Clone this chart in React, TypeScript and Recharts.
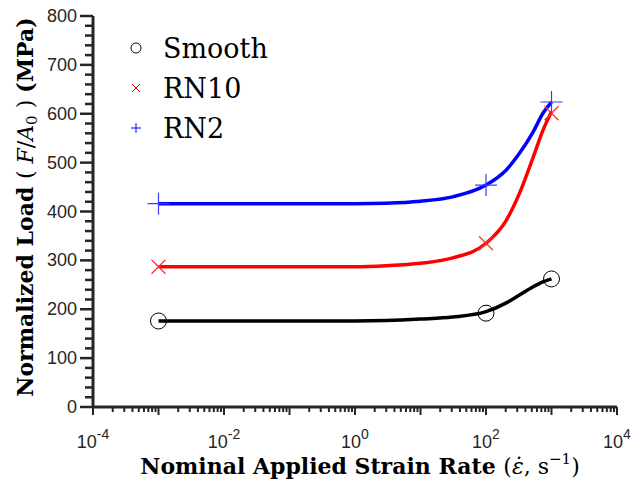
import React from 'react'
import {
  ComposedChart, Line, Scatter, XAxis, YAxis, Legend,
} from 'recharts'

// measured points (strain rate in 1/s, load in MPa)
const rates = [1e-3, 1e2, 1e3]
const smoothLoad = [176, 192, 262]
const rn10Load = [287, 335, 601]
const rn2Load = [416, 454, 624]

// fitted curves
const fitRates = [1e-3, 1e-2, 1e-1, 1, 3, 10, 31, 100, 204, 324, 525, 740, 1000]
const smoothFit = [176, 176, 176, 176, 177, 180, 184, 195, 213, 229, 246, 256, 262]
const rn10Fit = [287, 287, 287, 287, 289, 294, 305, 335, 382, 437, 511, 566, 604]
const rn2Fit = [416, 416, 416, 416, 417, 421, 430, 454, 485, 519, 563, 601, 624]

const xDecades = [-4, -3, -2, -1, 0, 1, 2, 3, 4]
const xLabelled = [-4, -2, 0, 2, 4]
const yLabels = [0, 100, 200, 300, 400, 500, 600, 700, 800]

const AXIS = '#262626'
const SERIF = '"DejaVu Serif", "Liberation Serif", serif'
const SANS = '"Liberation Sans", Arial, sans-serif'

const xTicks: number[] = []
xDecades.forEach((d) => {
  if (d === 4) { xTicks.push(1e4); return }
  for (let m = 1; m <= 9; m++) xTicks.push(m * Math.pow(10, d))
})
const yTicks: number[] = []
for (let v = 0; v <= 800; v += 20) yTicks.push(v)

const toPts = (xs: number[], ys: number[]) => xs.map((x, i) => ({ x, y: ys[i] }))

const XTick = ({ x, y, payload }: any) => {
  const v = payload.value as number
  const e = Math.round(Math.log10(v))
  const major = Math.abs(v - Math.pow(10, e)) < 1e-6 * v
  return (
    <g>
      <line x1={x} x2={x} y1={y} y2={y + (major ? 8 : 5)} stroke={AXIS} strokeWidth={2} />
      {major && xLabelled.includes(e) && (
        <text x={x} y={y + 41} textAnchor="middle" fontFamily={SANS} fontSize={18} fill={AXIS}>
          10<tspan dy={-9} fontSize={14}>{e}</tspan>
        </text>
      )}
    </g>
  )
}

const YTick = ({ x, y, payload }: any) => {
  const v = payload.value as number
  const major = yLabels.includes(v)
  return (
    <g>
      <line x1={x} x2={x - (major ? 13 : 8)} y1={y} y2={y} stroke={AXIS} strokeWidth={2.5} />
      {major && (
        <text x={x - 16} y={y + 6} textAnchor="end" fontFamily={SANS} fontSize={18} fill={AXIS}>
          {v}
        </text>
      )}
    </g>
  )
}

const CircleMark = ({ cx, cy }: any) => (
  <circle cx={cx} cy={cy} r={8} fill="none" stroke="#000" strokeWidth={1} />
)
const CrossMark = ({ cx, cy }: any) => (
  <path d={`M${cx - 7},${cy - 7}L${cx + 7},${cy + 7}M${cx - 7},${cy + 7}L${cx + 7},${cy - 7}`} stroke="#ff3030" strokeWidth={1.2} />
)
const PlusMark = ({ cx, cy }: any) => (
  <path d={`M${cx - 11},${cy}L${cx + 11},${cy}M${cx},${cy - 11}L${cx},${cy + 11}`} stroke="#3a3aff" strokeWidth={1.2} />
)

const legendItems = [
  { name: 'Smooth', mark: 'circle' },
  { name: 'RN10', mark: 'cross' },
  { name: 'RN2', mark: 'plus' },
]

const LegendBox = () => (
  <svg width={320} height={150}>
    {legendItems.map((it, i) => {
      const cy = 48 + i * 40
      return (
        <g key={it.name}>
          {it.mark === 'circle' && <circle cx={136} cy={cy} r={5} fill="none" stroke="#000" strokeWidth={1} />}
          {it.mark === 'cross' && <path d={`M${132},${cy - 4}L${140},${cy + 4}M${132},${cy + 4}L${140},${cy - 4}`} stroke="#ff0000" strokeWidth={1} />}
          {it.mark === 'plus' && <path d={`M${131},${cy}L${141},${cy}M${136},${cy - 5}L${136},${cy + 5}`} stroke="#0000ff" strokeWidth={1} />}
          <text x={163} y={cy + 10} fontFamily={SERIF} fontSize={27} fill="#000">{it.name}</text>
        </g>
      )
    })}
  </svg>
)

const YTitle = () => (
  <text x={33} y={207} transform="rotate(-90 33 207)" textAnchor="middle" fontFamily={SERIF} fontSize={22} fill="#000">
    <tspan fontWeight="bold">Normalized Load </tspan>
    <tspan>( </tspan>
    <tspan fontStyle="italic">F</tspan>
    <tspan>/</tspan>
    <tspan fontStyle="italic">A</tspan>
    <tspan fontSize={15} dy={4}>0</tspan>
    <tspan dy={-4}> ) </tspan>
    <tspan fontWeight="bold">(MPa)</tspan>
  </text>
)

const XTitle = () => (
  <text x={360} y={474} textAnchor="middle" fontFamily={SERIF} fontSize={22} fill="#000">
    <tspan fontWeight="bold">Nominal Applied Strain Rate </tspan>
    <tspan>(</tspan>
    <tspan fontStyle="italic">{'ε\u0307'}</tspan>
    <tspan>, s</tspan>
    <tspan fontSize={15} dy={-10}>−1</tspan>
    <tspan dy={10}>)</tspan>
  </text>
)

export default function App() {
  return (
    <div style={{ position: 'absolute', left: 0, top: 0, background: '#fff' }}>
      <ComposedChart width={633} height={479} margin={{ top: 16, right: 16, bottom: 0, left: 0 }}>
        <XAxis
          type="number" dataKey="x" scale="log" domain={[1e-4, 1e4]} allowDataOverflow
          ticks={xTicks} interval={0} tick={<XTick />} tickLine={false} tickSize={0} tickMargin={0}
          axisLine={{ stroke: AXIS, strokeWidth: 3 }} height={72}
          label={<XTitle />}
        />
        <YAxis
          type="number" dataKey="y" domain={[0, 800]} allowDataOverflow
          ticks={yTicks} interval={0} tick={<YTick />} tickLine={false} tickSize={0} tickMargin={0}
          axisLine={{ stroke: AXIS, strokeWidth: 3 }} width={93}
          label={<YTitle />}
        />
        <Legend
          layout="vertical" align="center" verticalAlign="middle"
          wrapperStyle={{ left: 0, top: 0, width: 320, height: 150 }}
          content={<LegendBox />}
        />
        <Line data={toPts(fitRates, smoothFit)} dataKey="y" type="monotone" stroke="#000" strokeWidth={3.5} dot={false} isAnimationActive={false} legendType="none" />
        <Line data={toPts(fitRates, rn10Fit)} dataKey="y" type="monotone" stroke="#ff0000" strokeWidth={3.5} dot={false} isAnimationActive={false} legendType="none" />
        <Line data={toPts(fitRates, rn2Fit)} dataKey="y" type="monotone" stroke="#0000ff" strokeWidth={3.5} dot={false} isAnimationActive={false} legendType="none" />
        <Scatter name="Smooth" data={toPts(rates, smoothLoad)} dataKey="y" shape={<CircleMark />} isAnimationActive={false} />
        <Scatter name="RN10" data={toPts(rates, rn10Load)} dataKey="y" shape={<CrossMark />} isAnimationActive={false} />
        <Scatter name="RN2" data={toPts(rates, rn2Load)} dataKey="y" shape={<PlusMark />} isAnimationActive={false} />
      </ComposedChart>
    </div>
  )
}
